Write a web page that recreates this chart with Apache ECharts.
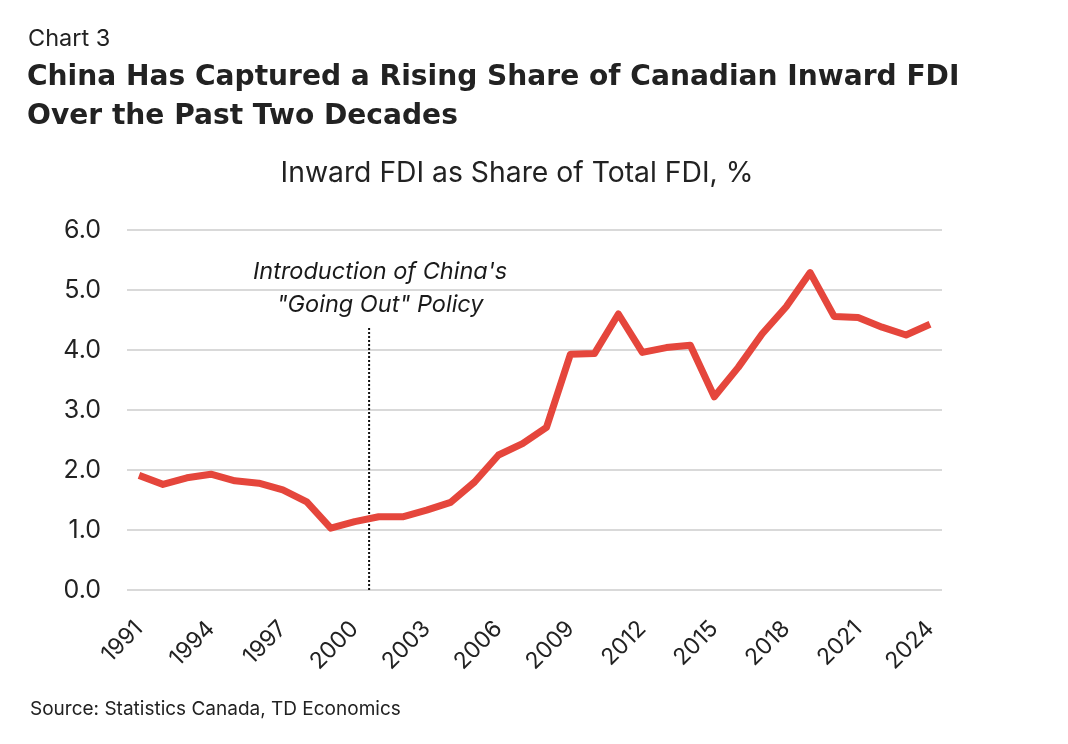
<!DOCTYPE html>
<html>
<head>
<meta charset="utf-8">
<script src="https://cdn.jsdelivr.net/npm/echarts@6/dist/echarts.min.js"></script>
<style>
html,body{margin:0;padding:0;background:#fff;}
#chart{width:1068px;height:744px;}
</style>
</head>
<body>
<div id="chart"></div>
<script>
const years = ['1991','1992','1993','1994','1995','1996','1997','1998','1999','2000','2001','2002','2003','2004','2005','2006','2007','2008','2009','2010','2011','2012','2013','2014','2015','2016','2017','2018','2019','2020','2021','2022','2023','2024'];
const fdiShare = [1.91,1.76,1.87,1.93,1.82,1.78,1.67,1.47,1.03,1.14,1.22,1.22,1.33,1.46,1.80,2.25,2.44,2.71,3.93,3.94,4.60,3.96,4.04,4.08,3.22,3.71,4.27,4.72,5.29,4.56,4.54,4.38,4.25,4.43];
const yTicks = [0,1,2,3,4,5,6];
const policyYear = 2000.6;
const policyTop = 4.37;
const policyText = 'Introduction of China\'s\n"Going Out" Policy';

const chart = echarts.init(document.getElementById('chart'));
const FONT = 'Inter';
chart.setOption({
  backgroundColor: '#fff',
  animation: false,
  title: [
    {text: 'Chart 3', left: 28, top: 27, padding: 0, textStyle: {fontFamily: FONT, fontSize: 23.5, fontWeight: 'normal', color: '#222'}},
    {text: 'China Has Captured a Rising Share of Canadian Inward FDI\nOver the Past Two Decades', left: 27, top: 58, padding: 0,
      textStyle: {fontFamily: 'DejaVu Sans', fontSize: 28.1, fontWeight: 'bold', color: '#222', lineHeight: 39}},
    {text: 'Inward FDI as Share of Total FDI, %', left: 517, textAlign: 'center', top: 159, padding: 0,
      textStyle: {fontFamily: FONT, fontSize: 28.3, fontWeight: 'normal', color: '#222'}},
    {text: 'Source: Statistics Canada, TD Economics', left: 30, top: 700, padding: 0,
      textStyle: {fontFamily: FONT, fontSize: 19, fontWeight: 'normal', color: '#222'}}
  ],
  grid: {left: 127, right: 126, top: 230, bottom: 154, containLabel: false},
  xAxis: [
    {type: 'category', data: years, boundaryGap: true,
      axisLine: {show: false}, axisTick: {show: false},
      axisLabel: {interval: 2, rotate: 45, margin: 35, fontFamily: FONT, fontSize: 23, color: '#222'}},
    {type: 'value', min: 1990.5, max: 2024.5, show: false}
  ],
  yAxis: {type: 'value', min: 0, max: 6, interval: 1,
    axisLine: {show: false}, axisTick: {show: false},
    axisLabel: {margin: 26, fontFamily: FONT, fontSize: 25, color: '#222', formatter: v => v.toFixed(1)},
    splitLine: {lineStyle: {color: '#d9d9d9', width: 2}}
  },
  series: [
    {type: 'line', data: fdiShare, xAxisIndex: 0, symbol: 'none',
      lineStyle: {color: '#e5463c', width: 7, join: 'round'}, z: 3},
    {type: 'line', xAxisIndex: 1, data: [[policyYear, 0], [policyYear, policyTop]], symbol: 'none',
      lineStyle: {color: '#111', width: 2, type: [2, 2]}, z: 2},
    {type: 'scatter', xAxisIndex: 1, data: [[policyYear, policyTop]], symbolSize: 0, silent: true,
      itemStyle: {color: '#222', opacity: 1},
      label: {show: true, position: 'top', distance: 6, offset: [11, 0], formatter: policyText,
        fontFamily: FONT, fontStyle: 'italic', fontSize: 23.5, color: '#1a1a1a', opacity: 1, lineHeight: 33, align: 'center'}}
  ]
});
</script>
</body>
</html>
